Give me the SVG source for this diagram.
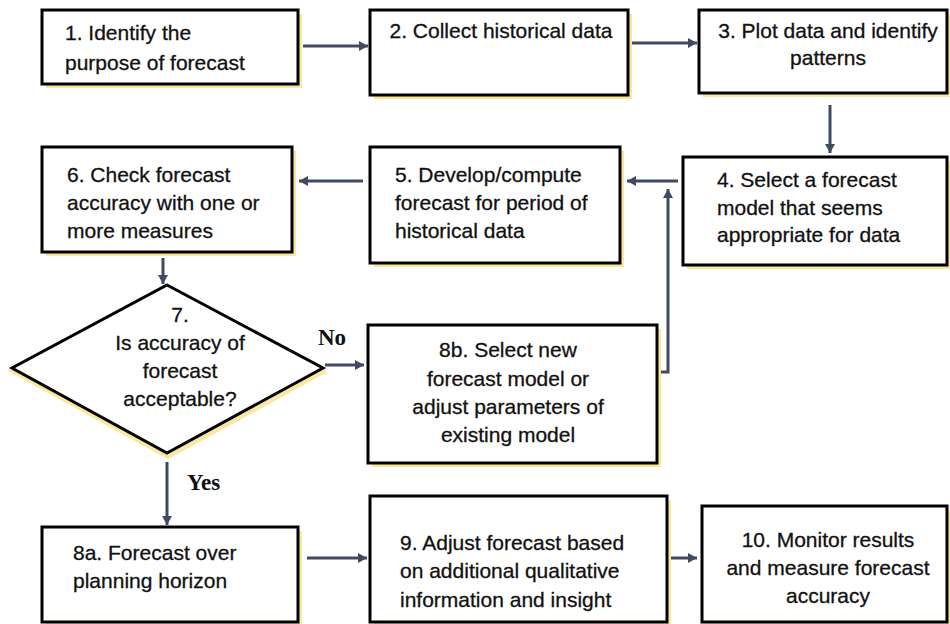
<svg xmlns="http://www.w3.org/2000/svg" width="950" height="624" viewBox="0 0 950 624">
<defs>
<style>
.box{fill:#ffffff;stroke:#000000;stroke-width:3}
.sh{fill:#fbe89c;stroke:none}
.t{font-family:"Liberation Sans",Arial,sans-serif;font-size:21px;fill:#111111;stroke:#111111;stroke-width:0.3}
.c{text-anchor:middle}
.lbl{font-family:"Liberation Serif","Times New Roman",serif;font-size:23px;font-weight:bold;fill:#111111}
.con{fill:none;stroke:#404a63;stroke-width:3}
</style>
<marker id="ah" markerUnits="userSpaceOnUse" markerWidth="9" markerHeight="10" refX="9" refY="5" orient="auto">
<path d="M0,0 L9,5 L0,10 z" fill="#404a63"/>
</marker>
</defs>
<rect width="950" height="624" fill="#ffffff"/>

<g id="n1">
<rect class="sh" x="46" y="14" width="256" height="74"/>
<rect class="box" x="42" y="10" width="256" height="74"/>
<text class="t" x="65" y="40">1. Identify the</text>
<text class="t" x="65" y="70">purpose of forecast</text>
</g>

<g id="n2">
<rect class="sh" x="374" y="14" width="258" height="85"/>
<rect class="box" x="370" y="10" width="258" height="85"/>
<text class="t c" x="501" y="38">2. Collect historical data</text>
</g>

<g id="n3">
<rect class="sh" x="703" y="14" width="250" height="83"/>
<rect class="box" x="699" y="10" width="248" height="83"/>
<text class="t c" x="828" y="38">3. Plot data and identify</text>
<text class="t c" x="828" y="65">patterns</text>
</g>

<g id="n4">
<rect class="sh" x="687" y="161" width="266" height="108"/>
<rect class="box" x="683" y="157" width="264" height="108"/>
<text class="t" x="717" y="187">4. Select a forecast</text>
<text class="t" x="717" y="215">model that seems</text>
<text class="t" x="717" y="242">appropriate for data</text>
</g>

<g id="n5">
<rect class="sh" x="374" y="151" width="250" height="116"/>
<rect class="box" x="370" y="147" width="250" height="116"/>
<text class="t" x="395" y="182">5. Develop/compute</text>
<text class="t" x="395" y="210">forecast for period of</text>
<text class="t" x="395" y="238">historical data</text>
</g>

<g id="n6">
<rect class="sh" x="46" y="151" width="250" height="105"/>
<rect class="box" x="42" y="147" width="250" height="105"/>
<text class="t" x="67" y="182">6. Check forecast</text>
<text class="t" x="67" y="210">accuracy with one or</text>
<text class="t" x="67" y="238">more measures</text>
</g>

<g id="n7">
<polygon points="14,372 168,457 325,371" fill="none" stroke="#fbe89c" stroke-width="4"/>
<polygon class="box" points="167,285 323,368 167,453 12,368"/>
<text class="t c" x="180" y="322">7.</text>
<text class="t c" x="180" y="350">Is accuracy  of</text>
<text class="t c" x="180" y="378">forecast</text>
<text class="t c" x="180" y="406">acceptable?</text>
</g>

<g id="n8b">
<rect class="sh" x="372" y="329" width="289" height="138"/>
<rect class="box" x="368" y="325" width="289" height="138"/>
<text class="t c" x="508" y="357">8b. Select new</text>
<text class="t c" x="508" y="386">forecast model or</text>
<text class="t c" x="508" y="414">adjust parameters of</text>
<text class="t c" x="508" y="442">existing model</text>
</g>

<g id="n8a">
<rect class="sh" x="46" y="531" width="256" height="95"/>
<rect class="box" x="42" y="527" width="256" height="95"/>
<text class="t" x="73" y="560">8a. Forecast over</text>
<text class="t" x="73" y="588">planning  horizon</text>
</g>

<g id="n9">
<rect class="sh" x="374" y="500" width="297" height="126"/>
<rect class="box" x="370" y="496" width="297" height="126"/>
<text class="t" x="400" y="550">9. Adjust forecast based</text>
<text class="t" x="400" y="578">on additional qualitative</text>
<text class="t" x="400" y="607">information and insight</text>
</g>

<g id="n10">
<rect class="sh" x="706" y="510" width="246" height="116"/>
<rect class="box" x="702" y="506" width="245" height="116"/>
<text class="t c" x="828" y="547">10. Monitor results</text>
<text class="t c" x="828" y="575">and measure forecast</text>
<text class="t c" x="828" y="603">accuracy</text>
</g>

<g id="connectors">
<path class="con" d="M303,46 H368" marker-end="url(#ah)"/>
<path class="con" d="M632,43 H697" marker-end="url(#ah)"/>
<path class="con" d="M830,105 V153" marker-end="url(#ah)"/>
<path class="con" d="M678,181 H627" marker-end="url(#ah)"/>
<path class="con" d="M363,181 H299" marker-end="url(#ah)"/>
<path class="con" d="M163,258 V284" marker-end="url(#ah)"/>
<path class="con" d="M325,365 H364" marker-end="url(#ah)"/>
<path class="con" d="M661,372 H668 V189" marker-end="url(#ah)"/>
<path class="con" d="M167,462 V525" marker-end="url(#ah)"/>
<path class="con" d="M307,558 H367" marker-end="url(#ah)"/>
<path class="con" d="M671,558 H697" marker-end="url(#ah)"/>
<text class="lbl" x="318" y="345">No</text>
<text class="lbl" x="187" y="490">Yes</text>
</g>
</svg>
